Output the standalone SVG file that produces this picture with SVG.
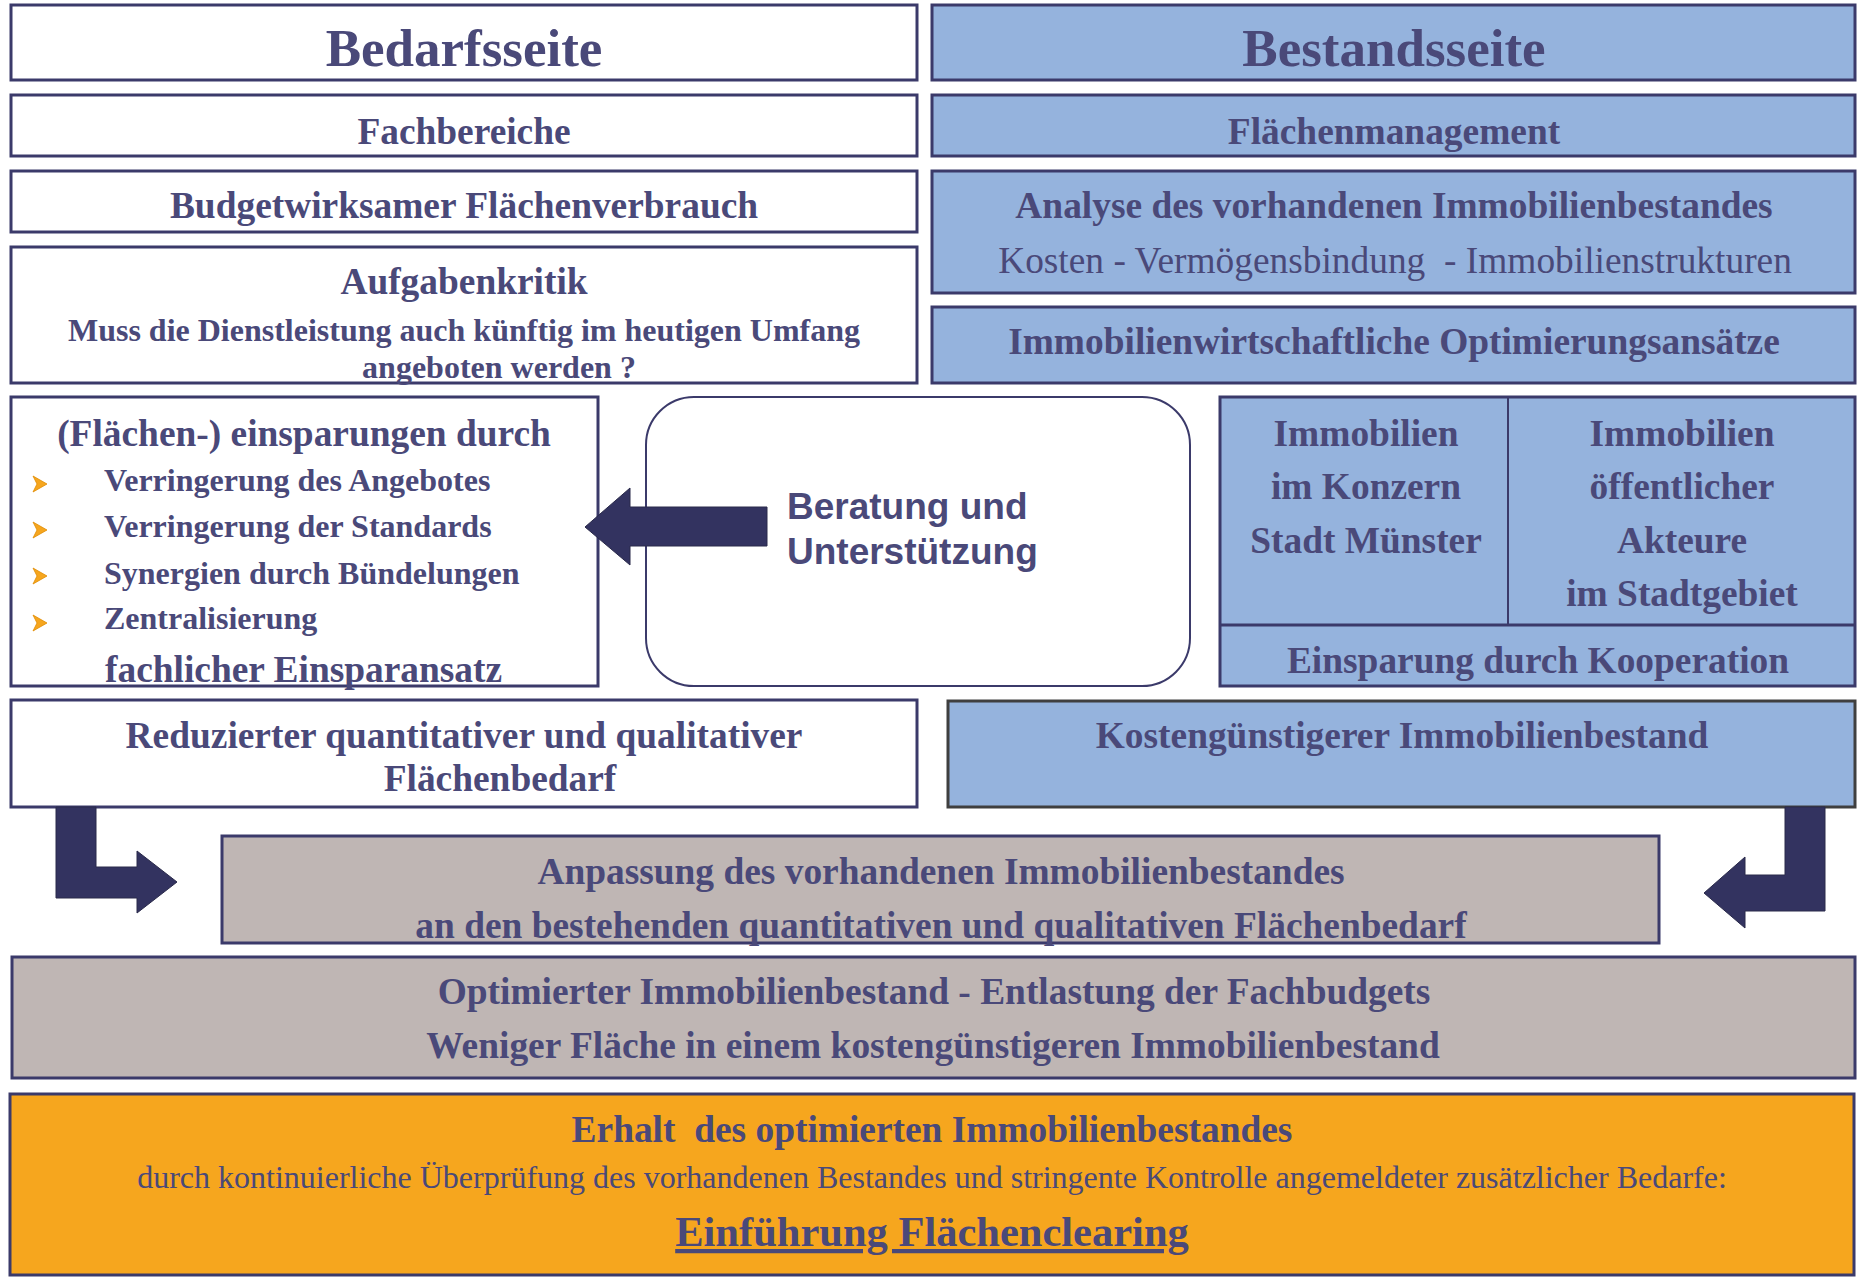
<svg xmlns="http://www.w3.org/2000/svg" width="1865" height="1279" viewBox="0 0 1865 1279">
<style>
.bx{stroke:#3B3A6A;stroke-width:3}
.w{fill:#FFFFFF}
.b{fill:#95B3DD}
.g{fill:#BFB6B4}
.o{fill:#F6A61E}
.t{font-family:"Liberation Serif","Times New Roman",serif;font-weight:bold;fill:#4A4979;text-anchor:middle;font-size:37.4px}
.r{font-weight:normal}
.s32{font-size:32px}
.big{font-size:53px}
.l{text-anchor:start}
.arr{fill:#333360;stroke:#2A2A4A;stroke-width:1}
.bul{fill:#F6A61E;stroke:#E08A00;stroke-width:0.8}
.sans{font-family:"Liberation Sans",Arial,sans-serif;font-weight:bold;fill:#4A4979;font-size:37px}
</style>
<rect width="1865" height="1279" fill="#FFFFFF"/>

<g id="bedarfsseite"><rect class="bx w" x="11" y="5" width="906" height="75"/><text class="t big" x="464" y="66">Bedarfsseite</text></g>
<g id="fachbereiche"><rect class="bx w" x="11" y="95" width="906" height="61"/><text class="t" x="464" y="144">Fachbereiche</text></g>
<g id="budget"><rect class="bx w" x="11" y="171" width="906" height="61"/><text class="t" x="464" y="218">Budgetwirksamer Flächenverbrauch</text></g>
<g id="aufgabenkritik"><rect class="bx w" x="11" y="247" width="906" height="136"/><text class="t" x="464" y="294">Aufgabenkritik</text><text class="t s32" x="464" y="341">Muss die Dienstleistung auch künftig im heutigen Umfang</text><text class="t s32" x="499" y="378">angeboten werden ?</text></g>

<g id="bestandsseite"><rect class="bx b" x="932" y="5" width="923" height="75"/><text class="t big" x="1394" y="66">Bestandsseite</text></g>
<g id="flaechenmanagement"><rect class="bx b" x="932" y="95" width="923" height="61"/><text class="t" x="1394" y="144">Flächenmanagement</text></g>
<g id="analyse"><rect class="bx b" x="932" y="171" width="923" height="122"/><text class="t" x="1394" y="218">Analyse des vorhandenen Immobilienbestandes</text><text class="t r" x="1395" y="273" style="white-space:pre">Kosten - Vermögensbindung  - Immobilienstrukturen</text></g>
<g id="optimierungsansaetze"><rect class="bx b" x="932" y="307" width="923" height="76"/><text class="t" x="1394" y="354">Immobilienwirtschaftliche Optimierungsansätze</text></g>

<g id="einsparungen"><rect class="bx w" x="11" y="397" width="587" height="289"/>
<text class="t" x="304" y="446">(Flächen-) einsparungen durch</text>
<polygon class="bul" points="33,476 47,484 33,492 37,484"/>
<polygon class="bul" points="33,522 47,530 33,538 37,530"/>
<polygon class="bul" points="33,568 47,576 33,584 37,576"/>
<polygon class="bul" points="33,615 47,623 33,631 37,623"/>
<text class="t s32 l" x="104" y="491">Verringerung des Angebotes</text>
<text class="t s32 l" x="104" y="537">Verringerung der Standards</text>
<text class="t s32 l" x="104" y="584">Synergien durch Bündelungen</text>
<text class="t s32 l" x="104" y="629">Zentralisierung</text>
<text class="t l" x="105" y="682">fachlicher Einsparansatz</text></g>

<g id="beratung"><rect class="bx w" x="646" y="397" width="544" height="289" rx="48" ry="48" style="stroke-width:2"/><text class="sans" x="787" y="519">Beratung und</text><text class="sans" x="787" y="564">Unterstützung</text></g>

<g id="kooperation"><rect class="bx b" x="1220" y="397" width="635" height="289"/>
<line class="bx" x1="1508" y1="397" x2="1508" y2="625" style="stroke-width:2"/>
<line class="bx" x1="1220" y1="625" x2="1855" y2="625"/>
<text class="t" x="1366" y="446">Immobilien</text><text class="t" x="1366" y="499">im Konzern</text><text class="t" x="1366" y="553">Stadt Münster</text>
<text class="t" x="1682" y="446">Immobilien</text><text class="t" x="1682" y="499">öffentlicher</text><text class="t" x="1682" y="553">Akteure</text><text class="t" x="1682" y="606">im Stadtgebiet</text>
<text class="t" x="1538" y="673">Einsparung durch Kooperation</text></g>

<g id="reduziert"><rect class="bx w" x="11" y="700" width="906" height="107"/><text class="t" x="464" y="748">Reduzierter quantitativer und qualitativer</text><text class="t" x="500" y="791">Flächenbedarf</text></g>
<g id="kostenguenstig"><rect class="b" x="948" y="701" width="907" height="106" stroke="#3F3F3F" stroke-width="3"/><text class="t" x="1402" y="748">Kostengünstigerer Immobilienbestand</text></g>

<g id="anpassung"><rect class="bx g" x="222" y="836" width="1437" height="107"/><text class="t" x="941" y="884">Anpassung des vorhandenen Immobilienbestandes</text><text class="t" x="941" y="938">an den bestehenden quantitativen und qualitativen Flächenbedarf</text></g>
<g id="optimiert"><rect class="bx g" x="12" y="957" width="1843" height="121"/><text class="t" x="934" y="1004">Optimierter Immobilienbestand - Entlastung der Fachbudgets</text><text class="t" x="933" y="1058">Weniger Fläche in einem kostengünstigeren Immobilienbestand</text></g>
<g id="erhalt"><rect class="bx o" x="10" y="1094" width="1844" height="181"/><text class="t" x="932" y="1142" style="white-space:pre">Erhalt  des optimierten Immobilienbestandes</text><text class="t r s32" x="932" y="1188">durch kontinuierliche Überprüfung des vorhandenen Bestandes und stringente Kontrolle angemeldeter zusätzlicher Bedarfe:</text><text class="t" x="932" y="1246" style="font-size:42.5px;text-decoration:underline">Einführung Flächenclearing</text></g>

<g id="connectors">
<polygon class="arr" points="585,527 630,488 630,507 767,507 767,546 630,546 630,565"/>
<polygon class="arr" points="56,807 96,807 96,867 137,867 137,851 177,882 137,913 137,898 56,898"/>
<polygon class="arr" points="1785,807 1825,807 1825,911 1745,911 1745,928 1704,893 1745,857 1745,875 1785,875"/>
</g>
</svg>
